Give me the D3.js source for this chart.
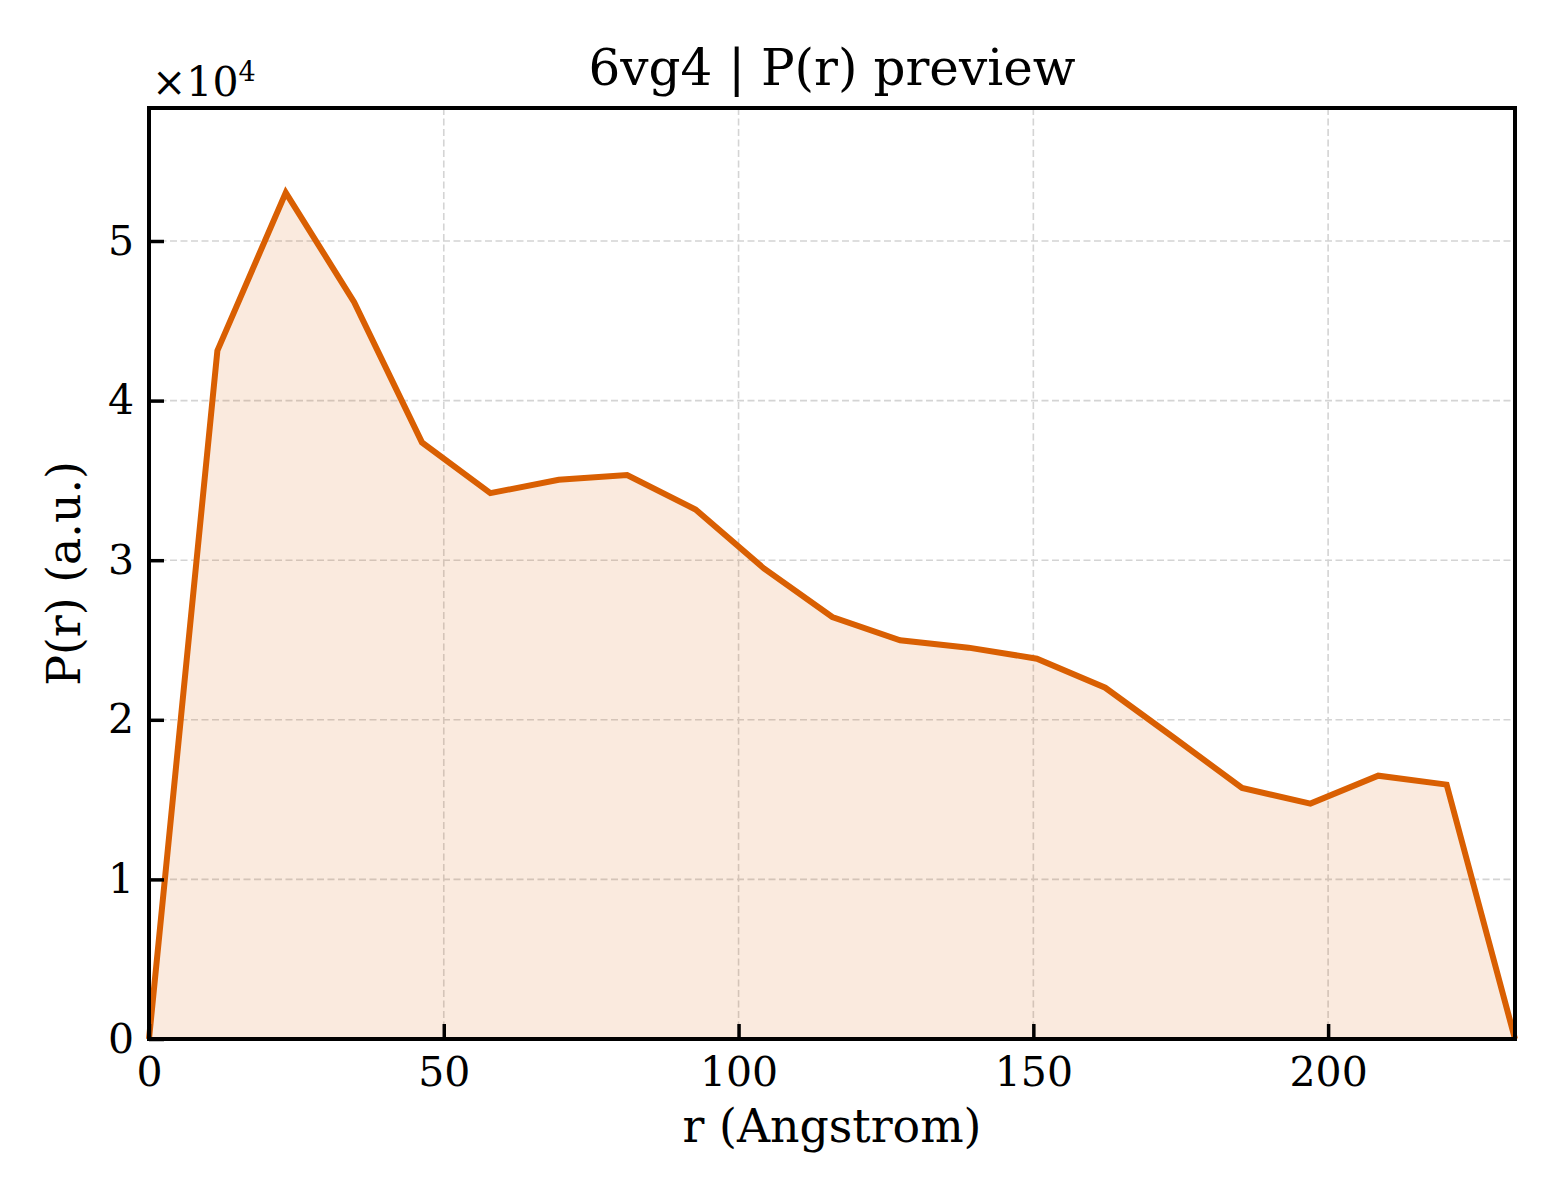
<!DOCTYPE html>
<html>
<head>
<meta charset="utf-8">
<script src="https://cdn.jsdelivr.net/npm/d3@7"></script>
<style>
  body { margin: 0; background: #fff; }
  text { font-family: "DejaVu Serif", serif; fill: #000; }
</style>
</head>
<body>
<div id="chart"></div>
<script>
// r values (Angstrom) and P(r) values read from the preview
const rValues = [0, 11.6, 23.2, 34.8, 46.3, 57.9, 69.5, 81.1, 92.7, 104.3, 115.9,
  127.4, 139.0, 150.6, 162.2, 173.8, 185.4, 197.0, 208.5, 220.1, 231.7];
const prValues = [0, 43130, 53030, 46170, 37380, 34200, 35040, 35330, 33180, 29480, 26440,
  24980, 24520, 23830, 22010, 18890, 15730, 14750, 16500, 15940, 0];
const xTicks = [0, 50, 100, 150, 200];
const yTicks = [0, 10000, 20000, 30000, 40000, 50000];

const data = rValues.map((r, i) => ({ r: r, p: prValues[i] }));

const width = 1560;
const height = 1200;
const margin = { top: 108, left: 149, bottom: 161, right: 45 };
const color = "#d95f02";

const svg = d3.select("#chart")
  .append("svg")
  .attr("width", width)
  .attr("height", height);

const x = d3.scaleLinear()
  .domain([0, d3.max(rValues)])
  .range([margin.left, width - margin.right]);

const y = d3.scaleLinear()
  .domain([0, d3.max(prValues) * 1.1])
  .range([height - margin.bottom, margin.top]);

// grid
const grid = svg.append("g")
  .attr("stroke", "#d4d4d4")
  .attr("stroke-width", 1.6)
  .attr("stroke-dasharray", "7,3.5");

grid.selectAll(".vgrid")
  .data(xTicks.filter((d) => d > 0))
  .enter()
  .append("line")
  .attr("x1", (d) => x(d))
  .attr("x2", (d) => x(d))
  .attr("y1", y.range()[0])
  .attr("y2", y.range()[1]);

grid.selectAll(".hgrid")
  .data(yTicks.filter((d) => d > 0))
  .enter()
  .append("line")
  .attr("y1", (d) => y(d))
  .attr("y2", (d) => y(d))
  .attr("x1", x.range()[0])
  .attr("x2", x.range()[1]);

// area + line
svg.append("path")
  .datum(data)
  .attr("fill", color)
  .attr("fill-opacity", 0.13)
  .attr("d", d3.area().x((d) => x(d.r)).y0(y(0)).y1((d) => y(d.p)));

svg.append("path")
  .datum(data)
  .attr("fill", "none")
  .attr("stroke", color)
  .attr("stroke-width", 6)
  .attr("stroke-linejoin", "miter")
  .attr("d", d3.line().x((d) => x(d.r)).y((d) => y(d.p)));

// axes
const xAxis = svg.append("g")
  .attr("transform", `translate(0,${height - margin.bottom})`)
  .call(d3.axisBottom(x).tickValues(xTicks).tickSize(-15).tickPadding(18).tickFormat(d3.format("d")));

const yAxis = svg.append("g")
  .attr("transform", `translate(${margin.left},0)`)
  .call(d3.axisLeft(y).tickValues(yTicks).tickSize(-15).tickPadding(15).tickFormat((d) => d / 10000));

[xAxis, yAxis].forEach((g) => {
  g.select(".domain").remove();
  g.selectAll(".tick line").attr("stroke", "#000").attr("stroke-width", 3.5);
  g.selectAll(".tick text")
    .style("font-family", "DejaVu Serif")
    .style("font-size", "41px")
    .attr("fill", "#000");
});

// frame
svg.append("rect")
  .attr("x", margin.left)
  .attr("y", margin.top)
  .attr("width", width - margin.left - margin.right)
  .attr("height", height - margin.top - margin.bottom)
  .attr("fill", "none")
  .attr("stroke", "#000")
  .attr("stroke-width", 4);

// offset text
const offset = svg.append("text")
  .attr("x", 152)
  .attr("y", 96)
  .style("font-size", "41px");
offset.append("tspan").text("×10");
offset.append("tspan")
  .attr("dy", -15)
  .style("font-size", "27px")
  .text("4");

// title and labels
svg.append("text")
  .attr("x", (margin.left + width - margin.right) / 2)
  .attr("y", 85)
  .attr("text-anchor", "middle")
  .style("font-size", "50px")
  .text("6vg4 | P(r) preview");

svg.append("text")
  .attr("x", (margin.left + width - margin.right) / 2)
  .attr("y", 1142)
  .attr("text-anchor", "middle")
  .style("font-size", "45.8px")
  .text("r (Angstrom)");

svg.append("text")
  .attr("transform", `translate(80,${(margin.top + height - margin.bottom) / 2}) rotate(-90)`)
  .attr("text-anchor", "middle")
  .style("font-size", "45.8px")
  .text("P(r) (a.u.)");
</script>
</body>
</html>
